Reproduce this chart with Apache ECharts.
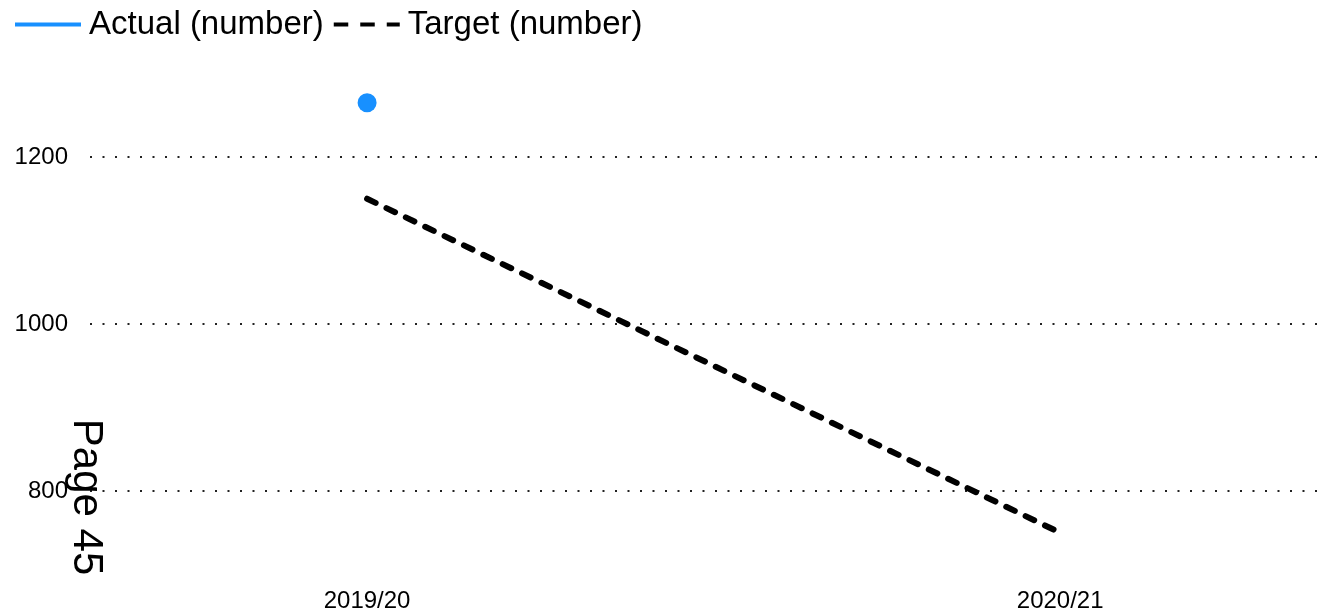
<!DOCTYPE html>
<html><head><meta charset="utf-8">
<script src="https://cdn.jsdelivr.net/npm/echarts@6/dist/echarts.min.js"></script>
<style>html,body{margin:0;padding:0;background:#fff}#c{width:1318px;height:615px}</style>
</head><body><div id="c"></div>
<script>
const categories = ['2019/20', '2020/21'];
const actualValues = [1265, null];
const targetValues = [1150, 750];
const yTicks = [800, 1000, 1200];
const seriesNames = ['Actual (number)', 'Target (number)'];
const pageLabel = 'Page 45';

const toPairs = vals => vals.map((v, i) => v == null ? null : [i, v]).filter(p => p);

const chart = echarts.init(document.getElementById('c'), null, {renderer: 'canvas'});
const font = 'Liberation Sans, Arial, sans-serif';
chart.setOption({
  animation: false,
  textStyle: {fontFamily: font},
  legend: {
    left: 8, top: 3,
    itemWidth: 66, itemHeight: 18, itemGap: 8,
    textStyle: {fontSize: 33, color: '#000', fontFamily: font, padding: [0, 0, 0, 3]},
    itemStyle: {opacity: 0},
    data: [
      {name: seriesNames[0], lineStyle: {width: 4, color: '#1890FF'}},
      {name: seriesNames[1], lineStyle: {width: 4, color: '#000', type: [14.5, 12], cap: 'butt'}}
    ]
  },
  grid: {left: 90, right: 0, top: 73.5, bottom: 40.5},
  xAxis: {
    type: 'value', min: -0.3998, max: 1.372,
    axisLine: {show: false}, axisTick: {show: false}, splitLine: {show: false},
    axisLabel: {customValues: categories.map((c, i) => i), formatter: v => categories[Math.round(v)],
      fontSize: 24, color: '#000', margin: 15, fontFamily: font}
  },
  yAxis: {
    type: 'value', min: 700, max: 1300,
    axisLine: {show: false},
    axisTick: {show: false, customValues: yTicks},
    axisLabel: {customValues: yTicks, formatter: v => String(v), fontSize: 24, color: '#000', margin: 22, fontFamily: font},
    splitLine: {show: true, lineStyle: {color: '#222', width: 2, type: [2, 10.5]}}
  },
  series: [
    {name: seriesNames[0], type: 'line', data: toPairs(actualValues), symbol: 'circle', symbolSize: 19,
      itemStyle: {color: '#1890FF'}, lineStyle: {color: '#1890FF', width: 4}},
    {name: seriesNames[1], type: 'line', data: toPairs(targetValues), symbol: 'none',
      itemStyle: {color: '#000'}, lineStyle: {color: '#000', width: 6, type: [9.5, 12], cap: 'round'}}
  ],
  graphic: [{
    type: 'text', x: 86, y: 497, rotation: -Math.PI / 2, z: 100,
    style: {text: pageLabel, fontSize: 42, fill: '#000', fontFamily: font, align: 'center', verticalAlign: 'middle'}
  }]
});
</script></body></html>
